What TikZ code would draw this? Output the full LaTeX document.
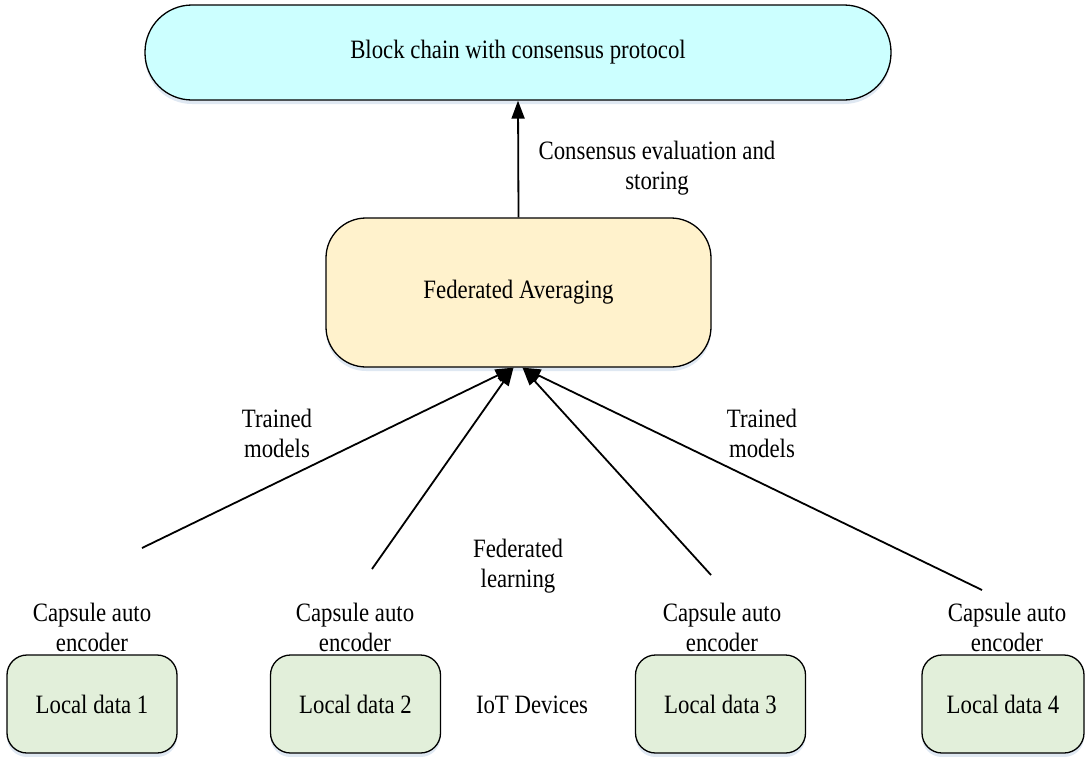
\documentclass[tikz,border=0pt]{standalone}
\usepackage{fontspec}
\setmainfont{Liberation Serif}[FakeStretch=0.86]
\usetikzlibrary{arrows.meta,shadows}

\definecolor{chainfill}{HTML}{CCFFFF}
\definecolor{avgfill}{HTML}{FFF2CC}
\definecolor{datafill}{HTML}{E2EFDA}
\definecolor{shadowblue}{HTML}{C9D9EA}

\begin{document}
\begin{tikzpicture}[x=1pt,y=-1pt,
  txt/.style={font=\fontsize{26.5}{30}\selectfont, align=center, inner sep=0pt},
  boxbase/.style={draw=black, line width=1.3pt, txt,
    drop shadow={shadow xshift=0pt, shadow yshift=-4pt, fill=shadowblue, opacity=0.6}},
  chainbox/.style={boxbase, fill=chainfill, minimum width=746pt, minimum height=95pt, rounded corners=47pt},
  avgbox/.style={boxbase, fill=avgfill, minimum width=385pt, minimum height=149pt, rounded corners=40pt},
  databox/.style={boxbase, fill=datafill, minimum width=170pt, minimum height=98pt, rounded corners=20pt},
  flow/.style={line width=1.8pt, -{Triangle[length=18pt,width=13pt]}}
]
\useasboundingbox (0,0) rectangle (1086,756);

% main blocks
\node[chainbox] (chain) at (518,52.5) {Block chain with consensus protocol};
\node[avgbox] (avg) at (518.5,292.5) {Federated Averaging};

% IoT devices with local data
\node[databox] (d1) at (92,704) {Local data 1};
\node[databox] (d2) at (355.5,704) {Local data 2};
\node[databox] (d3) at (720.5,704) {Local data 3};
\node[databox, minimum width=162pt] (d4) at (1003,704) {Local data 4};

% encoder captions
\node[txt] (c1) at (92,627) {Capsule auto\\encoder};
\node[txt] (c2) at (355,627) {Capsule auto\\encoder};
\node[txt] (c3) at (722,627) {Capsule auto\\encoder};
\node[txt] (c4) at (1007,627) {Capsule auto\\encoder};

% other captions
\node[txt] (iot) at (532,705) {IoT Devices};
\node[txt] (fl) at (518,566) {Federated\\learning};
\node[txt] (tm1) at (277,433) {Trained\\models};
\node[txt] (tm2) at (762,433) {Trained\\models};
\node[txt] (ce) at (657,168) {Consensus evaluation and\\storing};

% model uploads
\coordinate (s1) at (142,548);
\coordinate (s2) at (372,569);
\coordinate (s3) at (711,575);
\coordinate (s4) at (982,590);
\coordinate (inL) at ([xshift=-5pt]avg.south);
\coordinate (inR) at ([xshift=4pt]avg.south);

\draw[flow] (s1) -- (inL);
\draw[flow] (s2) -- (inL);
\draw[flow] (s3) -- (inR);
\draw[flow] (s4) -- (inR);

% aggregated model to the chain
\draw[flow] (avg.north) -- (chain.south);
\end{tikzpicture}
\end{document}
